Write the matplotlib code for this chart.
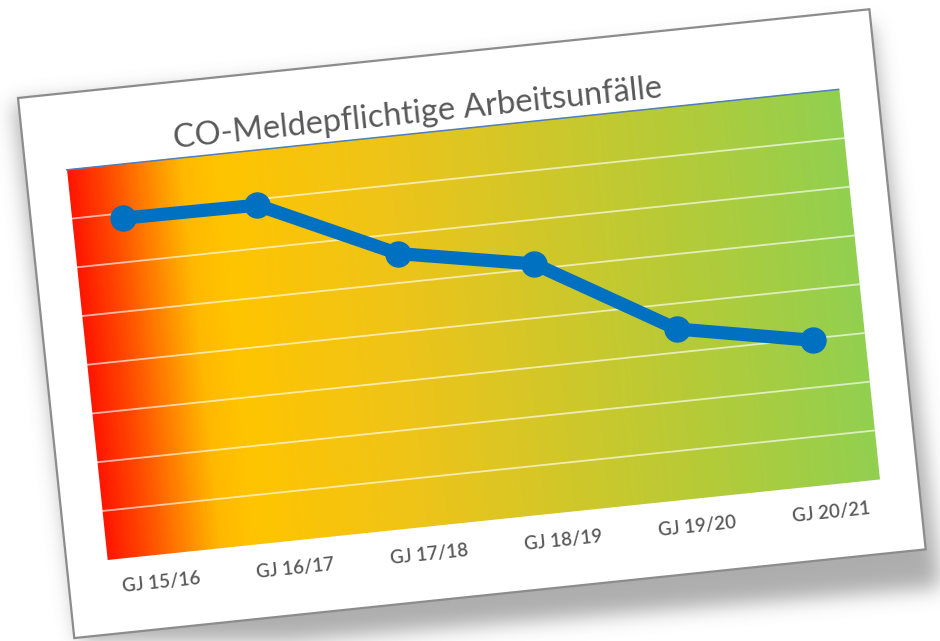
import numpy as np
import matplotlib
matplotlib.use("Agg")
import matplotlib.pyplot as plt
from matplotlib.transforms import Affine2D
from matplotlib.patches import Polygon
from matplotlib.path import Path
from matplotlib.colors import LinearSegmentedColormap

# Daten
jahre = ["GJ 15/16", "GJ 16/17", "GJ 17/18", "GJ 18/19", "GJ 19/20", "GJ 20/21"]
unfaelle = [34.5, 34.4, 28.0, 25.5, 17.4, 14.8]
titel = "CO-Meldepflichtige Arbeitsunfälle"

W, H = 940, 641
fig = plt.figure(figsize=(W / 100, H / 100), dpi=100)
ax = fig.add_axes([0, 0, 1, 1])
ax.set_xlim(0, W)
ax.set_ylim(H, 0)
ax.axis("off")

# Karte leicht gedreht (Pixelkoordinaten, y nach unten)
theta = 5.95
card_w, card_h = 856, 543
card = Affine2D().rotate_deg(-theta).translate(18, 98)
t_card = card + ax.transData

# Plotbereich innerhalb der Karte
u0, u1, v0, v1 = 41, 817, 76.5, 468.5
xmin, xmax = -0.38, len(jahre) - 1 + 0.38
ymin, ymax = 0, 40
sx = (u1 - u0) / (xmax - xmin)
sy = (v1 - v0) / (ymax - ymin)
daten = Affine2D().translate(-xmin, -ymin).scale(sx, -sy).translate(u0, v1)
t_daten = daten + t_card

# Schatten: verschobene Kartenform, weichgezeichnet
ecken = np.array([[0, 0], [card_w, 0], [card_w, card_h], [0, card_h]], float)
px = card.transform(ecken)
schatten_ecken = px + np.array([[-4, 6], [2, 16], [16, 38], [8, 20]])
yy, xx = np.mgrid[0:H, 0:W]
maske = Path(schatten_ecken).contains_points(
    np.c_[xx.ravel() + 0.5, yy.ravel() + 0.5]).reshape(H, W).astype(float)
sigma = 10
k = np.arange(-3 * sigma, 3 * sigma + 1)
kern = np.exp(-k**2 / (2 * sigma**2))
kern /= kern.sum()
maske = np.apply_along_axis(lambda r: np.convolve(r, kern, mode="same"), 1, maske)
maske = np.apply_along_axis(lambda r: np.convolve(r, kern, mode="same"), 0, maske)
rgba = np.zeros((H, W, 4))
rgba[..., :3] = 0.42
rgba[..., 3] = maske * 0.55
ax.imshow(rgba, extent=(0, W, H, 0), origin="upper", zorder=0, interpolation="bilinear")

# Karte
ax.add_patch(Polygon(px, closed=True, facecolor="white", edgecolor="#8c8c8c",
                     lw=1.6, zorder=1))

# Farbverlauf rot -> gelb -> grün
verlauf = LinearSegmentedColormap.from_list("ampel", [
    (0.00, "#ff1800"), (0.05, "#ff4a00"), (0.10, "#ff8600"),
    (0.145, "#ffb800"), (0.19, "#ffc400"), (0.40, "#efc418"),
    (0.58, "#d4c728"), (0.78, "#b5cb38"), (1.00, "#92d050")])
grad = verlauf(np.linspace(0, 1, 800))[None, :, :]
grad = np.repeat(grad, 2, axis=0)
ax.imshow(grad, extent=(u0, u1, v1, v0), origin="upper", transform=t_card,
          interpolation="bilinear", zorder=2)

# Gitterlinien
for g in range(5, ymax, 5):
    ax.plot([xmin, xmax], [g, g], transform=t_daten, color="white",
            alpha=0.65, lw=1.3, zorder=3)
ax.plot([xmin, xmax], [ymax, ymax], transform=t_daten, color="#4f7fc0",
        lw=1.1, zorder=3)

# Linie mit Markern
x = np.arange(len(jahre))
ax.plot(x, unfaelle, transform=t_daten, color="#0070c0", lw=9.5,
        marker="o", ms=18, solid_joinstyle="round", solid_capstyle="round",
        zorder=4)

# Beschriftungen
ax.text(396, 57, titel, transform=t_card, rotation=theta, rotation_mode="anchor",
        ha="center", va="center", fontsize=23.5, fontfamily="Lato",
        fontweight="normal", color="#595959", zorder=5)
for i, lab in enumerate(jahre):
    u = daten.transform([[i, ymin]])[0][0]
    ax.text(u, 497, lab, transform=t_card, rotation=theta, rotation_mode="anchor",
            ha="center", va="center", fontsize=13.5, fontfamily="Lato",
            fontweight="semibold", color="#595959", zorder=5)

fig.savefig("out.png", dpi=100)
